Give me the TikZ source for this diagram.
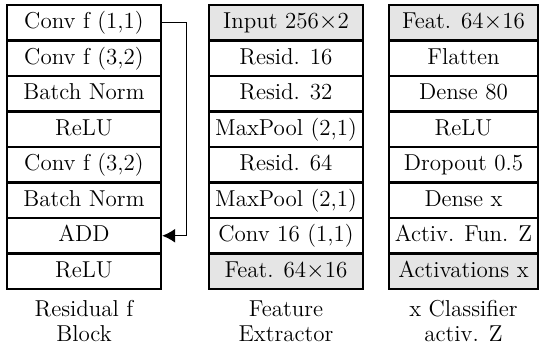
\documentclass[tikz,border=0pt]{standalone}
\usetikzlibrary{arrows.meta}
\begin{document}
\begin{tikzpicture}[x=0.5pt,y=-0.5pt,
  blk/.style={draw, line width=1.2pt, minimum height=17.75pt, inner sep=0pt,
    font=\fontsize{11.5}{13.5}\selectfont, text height=8.4pt, text depth=2.2pt},
  wideA/.style={blk, minimum width=77pt},
  wideB/.style={blk, minimum width=74.5pt},
  hl/.style={fill=black!10},
  caption/.style={align=center, anchor=north, inner sep=0pt,
    font=\fontsize{11.5}{12.5}\selectfont},
  skiparrow/.style={line width=0.6pt, -{Latex[length=6.5pt,width=7pt]}}]
\useasboundingbox (0,0) rectangle (539,352);
% Column 1: Residual block
\node[wideA] (r1) at (84,22.75)  {Conv f (1,1)};
\node[wideA] (r2) at (84,58.25)  {Conv f (3,2)};
\node[wideA] (r3) at (84,93.75)  {Batch Norm};
\node[wideA] (r4) at (84,129.25) {ReLU};
\node[wideA] (r5) at (84,164.75) {Conv f (3,2)};
\node[wideA] (r6) at (84,200.25) {Batch Norm};
\node[wideA] (r7) at (84,235.75) {ADD};
\node[wideA] (r8) at (84,271.25) {ReLU};
\draw[skiparrow] (r1.east) -- ++(24,0) |- (r7.east);
\node[caption] (l1) at (84,300) {Residual f\\Block};
% Column 2: Feature extractor
\node[wideA,hl] (f1) at (286,22.75)  {Input 256$\times$2};
\node[wideA] (f2) at (286,58.25)  {Resid. 16};
\node[wideA] (f3) at (286,93.75)  {Resid. 32};
\node[wideA] (f4) at (286,129.25) {MaxPool (2,1)};
\node[wideA] (f5) at (286,164.75) {Resid. 64};
\node[wideA] (f6) at (286,200.25) {MaxPool (2,1)};
\node[wideA] (f7) at (286,235.75) {Conv 16 (1,1)};
\node[wideA,hl] (f8) at (286,271.25) {Feat. 64$\times$16};
\node[caption] (l2) at (286,300) {Feature\\Extractor};
% Column 3: Classifier
\node[wideB,hl] (c1) at (463.5,22.75)  {Feat. 64$\times$16};
\node[wideB] (c2) at (463.5,58.25)  {Flatten};
\node[wideB] (c3) at (463.5,93.75)  {Dense 80};
\node[wideB] (c4) at (463.5,129.25) {ReLU};
\node[wideB] (c5) at (463.5,164.75) {Dropout 0.5};
\node[wideB] (c6) at (463.5,200.25) {Dense x};
\node[wideB] (c7) at (463.5,235.75) {Activ. Fun. Z};
\node[wideB,hl] (c8) at (463.5,271.25) {Activations x};
\node[caption] (l3) at (463.5,300) {x Classifier\\activ. Z};
\end{tikzpicture}
\end{document}
